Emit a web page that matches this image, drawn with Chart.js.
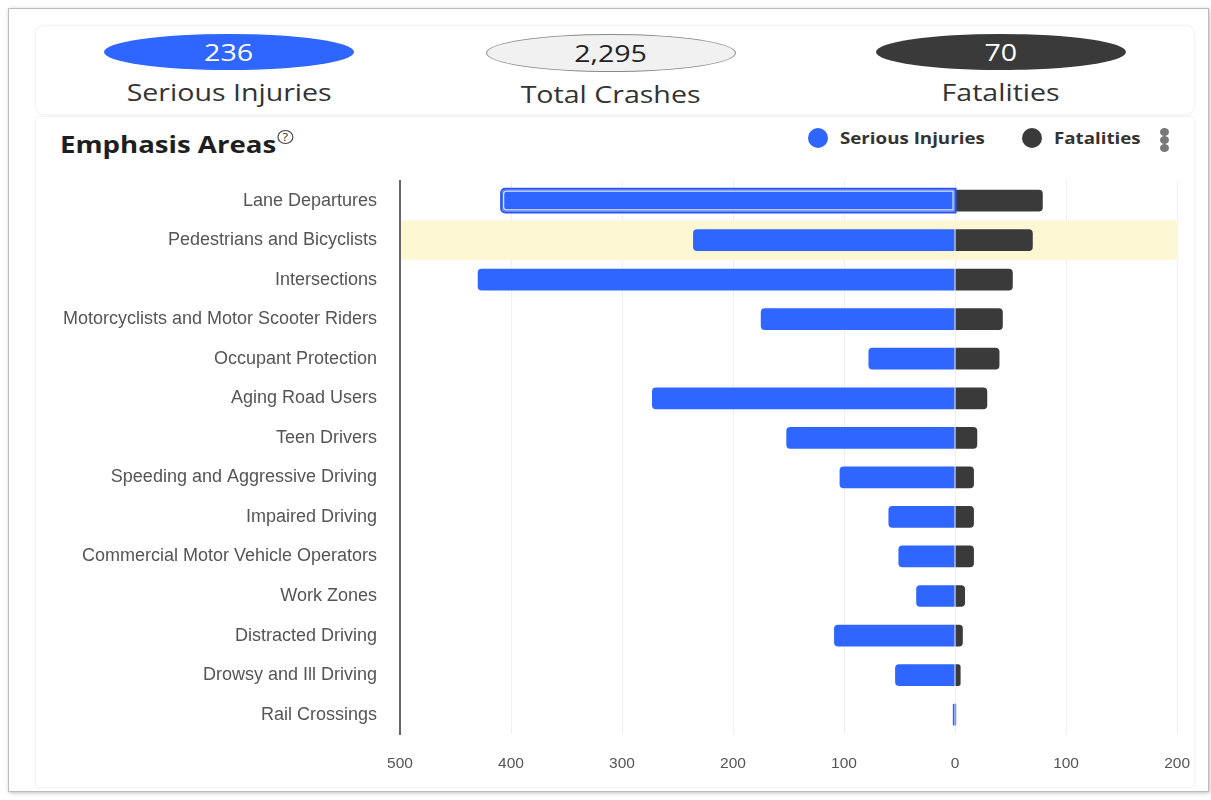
<!DOCTYPE html>
<html>
<head>
<meta charset="utf-8">
<title>Emphasis Areas</title>
<script src="https://cdn.jsdelivr.net/npm/chart.js@4.4.1/dist/chart.umd.min.js"></script>
<style>
  body { margin: 0; background: #fff; font-family: "Open Sans", "Noto Sans", sans-serif; overflow: hidden; }
  .frame { position: absolute; left: 8px; top: 8px; width: 1199px; height: 782px;
    border: 1px solid #bdbdbd; box-shadow: 1px 1px 4px rgba(0,0,0,0.25); }
  .card { position: absolute; left: 36px; width: 1158px; border-radius: 8px;
    box-shadow: 0 0 3px rgba(0,0,0,0.12); background: #fff; }
  .wide { display: inline-block; transform: scaleX(1.19); }
  .stat { position: absolute; top: 34px; width: 250px; margin-left: -125px; text-align: center; }
  .stat .pill { height: 36px; line-height: 36px; border-radius: 50%; font-size: 24px; }
  .stat .label { margin-top: 6px; font-size: 24px; line-height: 32px; color: #333; }
  .title { position: absolute; left: 60px; top: 127px; font-size: 24px; font-weight: 700; color: #1e1e1e;
    transform: scaleX(1.15); transform-origin: left center; }
  .title sup { font-size: 11px; font-weight: 400; border: 1px solid #444; border-radius: 50%;
    width: 12px; height: 12px; line-height: 12px; display: inline-block; text-align: center;
    vertical-align: 12px; margin-left: 1px; }
  .legend { position: absolute; top: 127px; font-size: 16px; font-weight: 700; color: #333; line-height: 22px; }
  .legend i { position: absolute; top: 1px; width: 20px; height: 20px; border-radius: 50%; }
  .legend span { position: absolute; left: 32px; white-space: nowrap; transform: scaleX(1.17); transform-origin: left center; }
  .kebab { position: absolute; left: 1160px; top: 128px; width: 9px; }
  .kebab b { display: block; width: 9px; height: 8px; border-radius: 50%; background: #777; }
  #wrap { position: absolute; left: 36px; top: 155px; width: 1174px; height: 638px; }
</style>
</head>
<body>
<div class="frame"></div>
<div class="card" style="top:26px;height:88px"></div>
<div class="card" style="top:117px;height:670px;border-radius:4px"></div>

<div id="stats"></div>
<div class="title">Emphasis Areas<sup>?</sup></div>
<div class="legend" style="left:808px"><i style="left:0;background:#2f66ff"></i><span>Serious Injuries</span></div>
<div class="legend" style="left:1022px"><i style="left:0;background:#3a3a3a"></i><span>Fatalities</span></div>
<div class="kebab"><b></b><b></b><b></b></div>

<div id="wrap"><canvas id="chart"></canvas></div>

<script>
const categories = [
  'Lane Departures',
  'Pedestrians and Bicyclists',
  'Intersections',
  'Motorcyclists and Motor Scooter Riders',
  'Occupant Protection',
  'Aging Road Users',
  'Teen Drivers',
  'Speeding and Aggressive Driving',
  'Impaired Driving',
  'Commercial Motor Vehicle Operators',
  'Work Zones',
  'Distracted Driving',
  'Drowsy and Ill Driving',
  'Rail Crossings'
]
const seriousInjuries = [408, 236, 430, 175, 78, 273, 152, 104, 60, 51, 35, 109, 54, 2]
const fatalities = [79, 70, 52, 43, 40, 29, 20, 17, 17, 17, 9, 7, 5, 1]
const xTicks = [-500, -400, -300, -200, -100, 0, 100, 200]
const totalCrashes = 2295
const selected = 1   // highlighted row, shown in the summary pills

const BLUE = '#2f66ff'
const DARK = '#3a3a3a'

// summary pills across the top
const stats = [
  { x: 229, value: seriousInjuries[selected], label: 'Serious Injuries', bg: BLUE, fg: '#fff', border: 'none' },
  { x: 611, value: totalCrashes, label: 'Total Crashes', bg: '#f1f1f1', fg: '#222', border: '1px solid #8a8a8a' },
  { x: 1001, value: fatalities[selected], label: 'Fatalities', bg: DARK, fg: '#fff', border: 'none' }
]
const statsEl = document.getElementById('stats')
stats.forEach(s => {
  const d = statsEl.appendChild(document.createElement('div'))
  d.className = 'stat'
  d.style.left = s.x + 'px'
  d.innerHTML = `<div class="pill" style="background:${s.bg};color:${s.fg};border:${s.border}"><span class="wide">${s.value.toLocaleString('en-US')}</span></div>` +
    `<div class="label"><span class="wide">${s.label}</span></div>`
})

// yellow band behind the selected row
const rowBand = {
  id: 'rowBand',
  beforeDatasetsDraw(chart) {
    const { ctx, chartArea, scales } = chart
    const y = scales.y.getPixelForValue(selected)
    const h = (chartArea.bottom - chartArea.top) / categories.length
    ctx.save()
    ctx.fillStyle = '#fdf7d4'
    ctx.fillRect(chartArea.left + 1, y - h / 2, chartArea.right - chartArea.left, h)
    ctx.restore()
  }
}

// hover-style outline on the first serious injuries bar
const activeOutline = {
  id: 'activeOutline',
  afterDatasetsDraw(chart) {
    const bar = chart.getDatasetMeta(0).data[0]
    const { x, y, base, height } = bar.getProps(['x', 'y', 'base', 'height'], true)
    const ctx = chart.ctx
    ctx.save()
    ctx.lineWidth = 2
    ctx.strokeStyle = '#2f55ee'
    ctx.beginPath()
    ctx.roundRect(x - 1, y - height / 2 - 1, base - x + 2, height + 2, [4, 0, 0, 4])
    ctx.stroke()
    ctx.lineWidth = 1.2
    ctx.strokeStyle = 'rgba(255,255,255,0.85)'
    ctx.beginPath()
    ctx.roundRect(x + 1.5, y - height / 2 + 1.5, base - x - 3, height - 3, [3, 0, 0, 3])
    ctx.stroke()
    ctx.restore()
  }
}

new Chart(document.getElementById('chart'), {
  type: 'bar',
  data: {
    labels: categories,
    datasets: [
      {
        label: 'Serious Injuries',
        data: seriousInjuries.map(v => -v),
        backgroundColor: BLUE,
        borderRadius: 4,
        borderSkipped: 'start',
        barPercentage: 0.55,
        categoryPercentage: 1
      },
      {
        label: 'Fatalities',
        data: fatalities,
        backgroundColor: DARK,
        borderRadius: 4,
        borderSkipped: 'start',
        barPercentage: 0.55,
        categoryPercentage: 1
      }
    ]
  },
  options: {
    indexAxis: 'y',
    responsive: true,
    maintainAspectRatio: false,
    animation: false,
    layout: { padding: { top: 12, right: 0, bottom: 0, left: 0 } },
    plugins: { legend: { display: false }, tooltip: { enabled: false } },
    scales: {
      x: {
        stacked: true,
        min: xTicks[0],
        max: xTicks[xTicks.length - 1],
        afterBuildTicks: s => { s.ticks = xTicks.map(v => ({ value: v })) },
        grid: { color: '#efefef', drawTicks: false },
        border: { display: false },
        ticks: {
          padding: 20,
          color: '#555',
          font: { family: 'Liberation Sans', size: 15.5 },
          callback: v => Math.abs(v)
        }
      },
      y: {
        stacked: true,
        afterFit: s => { s.width = 364 },
        grid: { display: false },
        border: { color: '#666', width: 2 },
        ticks: {
          padding: 15,
          color: '#555',
          font: { family: 'Liberation Sans', size: 18 }
        }
      }
    }
  },
  plugins: [rowBand, activeOutline]
})
</script>
</body>
</html>
